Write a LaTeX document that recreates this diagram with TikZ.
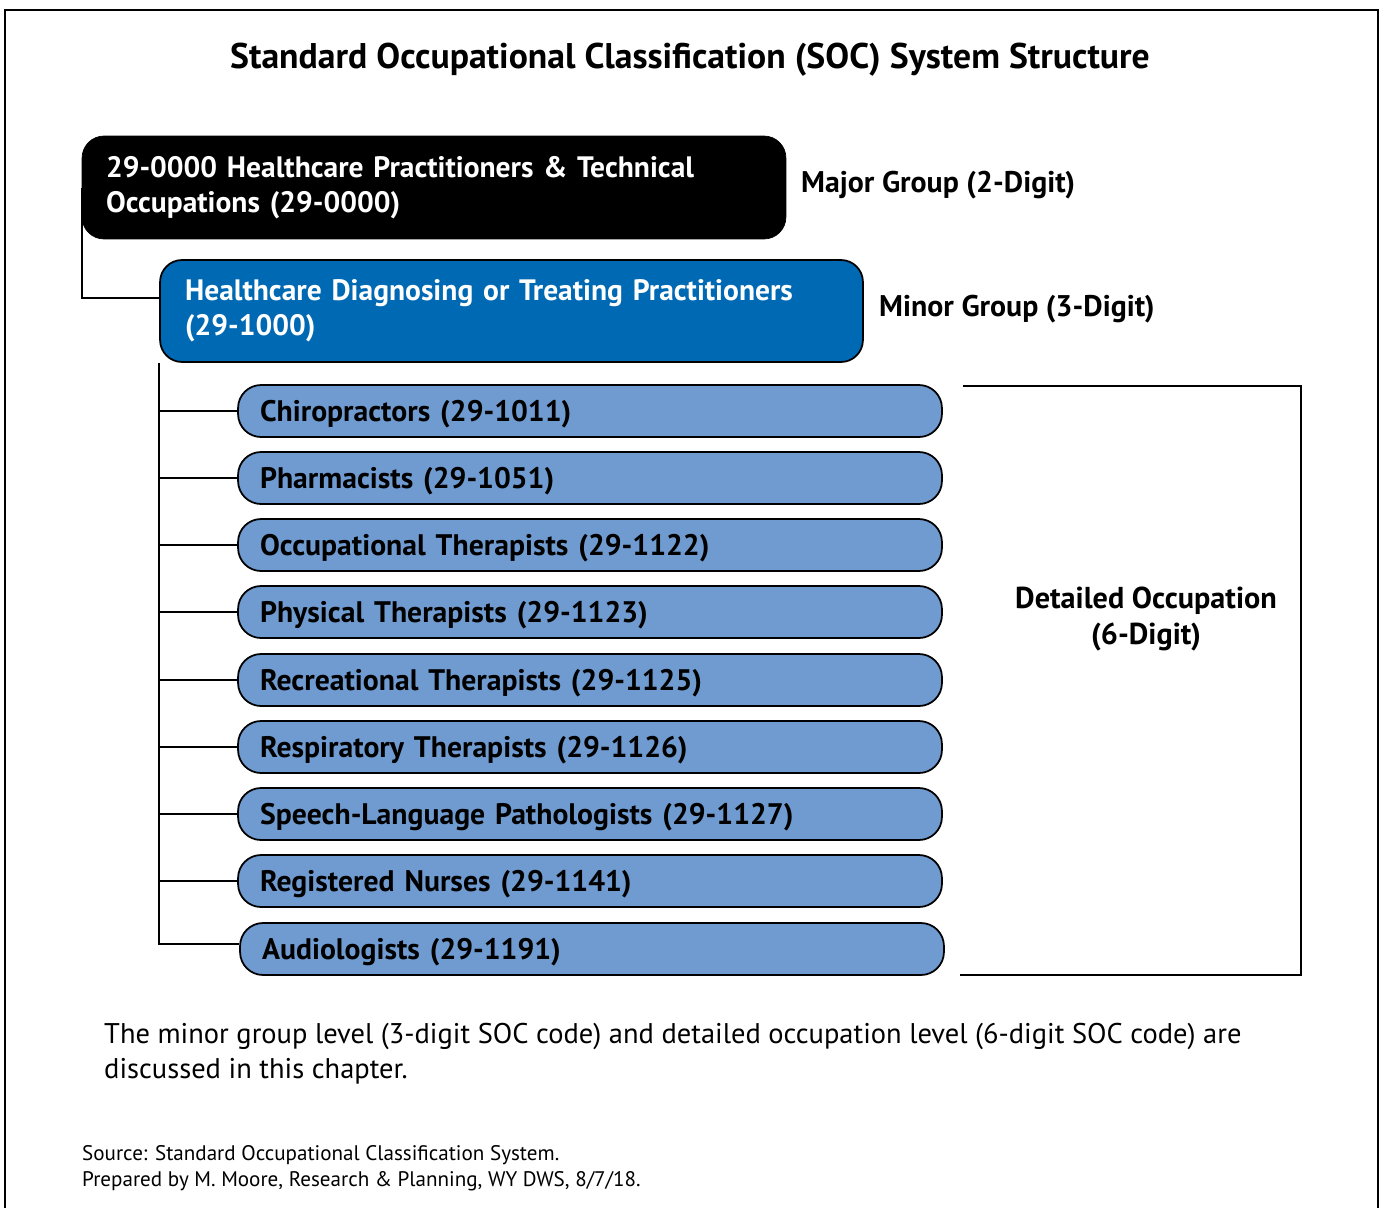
\documentclass[tikz,border=0pt]{standalone}
\usepackage{fontspec}
\setmainfont{PT Sans}
\definecolor{socblue}{HTML}{0069B4}
\definecolor{detailblue}{HTML}{6F9BD1}
\tikzset{
  conn/.style={line width=1.2pt, black},
  major/.style={draw=black, fill=black, text=white, rounded corners=0.44cm,
    minimum width=14.08cm, minimum height=2.06cm, inner xsep=0.48cm,
    text width=13.12cm, align=left, font=\bfseries\fontsize{16.8}{20}\selectfont},
  minor/.style={draw=black, line width=1pt, fill=socblue, text=white, rounded corners=0.44cm,
    minimum width=14.06cm, minimum height=2.04cm, inner xsep=0.5cm,
    text width=13.06cm, align=left, font=\bfseries\fontsize{16.8}{20}\selectfont},
  detail/.style={draw=black, line width=1pt, fill=detailblue, rounded corners=0.46cm,
    minimum width=14.08cm, minimum height=1.04cm, inner xsep=0.44cm, inner ysep=0pt,
    text height=0.52cm, text depth=0.12cm,
    text width=13.2cm, align=left, font=\bfseries\fontsize{16.9}{19}\selectfont},
  lbl/.style={anchor=west, font=\bfseries\fontsize{17}{20}\selectfont, align=left},
}
\begin{document}
\begin{tikzpicture}[x=0.02cm, y=-0.02cm]
  \useasboundingbox (0,0) rectangle (1385,1207);

  % Outer frame (open at the bottom)
  \draw[line width=1.6pt] (5,1215) -- (5,10) -- (1378,10) -- (1378,1215);

  % Title
  \node[font=\bfseries\fontsize{20.3}{24}\selectfont] (title) at (690,60)
    {Standard Occupational Classification (SOC) System Structure};

  % Major and minor group
  \node[major] (majorgrp) at (434,187.5)
    {29-0000 Healthcare Practitioners \& Technical\\Occupations (29-0000)};
  \node[minor] (minorgrp) at (511.5,311)
    {Healthcare Diagnosing or Treating Practitioners\\(29-1000)};
  \node[lbl] (majorlbl) at (795,185) {Major Group (2-Digit)};
  \node[lbl] (minorlbl) at (873,309) {Minor Group (3-Digit)};

  % Detailed occupations
  \node[detail] (d1) at (590,411) {Chiropractors (29-1011)};
  \node[detail] (d2) at (590,478) {Pharmacists (29-1051)};
  \node[detail] (d3) at (590,545) {Occupational Therapists (29-1122)};
  \node[detail] (d4) at (590,612) {Physical Therapists (29-1123)};
  \node[detail] (d5) at (590,680) {Recreational Therapists (29-1125)};
  \node[detail] (d6) at (590,747) {Respiratory Therapists (29-1126)};
  \node[detail] (d7) at (590,814) {Speech-Language Pathologists (29-1127)};
  \node[detail] (d8) at (590,881) {Registered Nurses (29-1141)};
  \node[detail] (d9) at (592,949) {Audiologists (29-1191)};

  % Tree connectors
  \draw[conn] (majorgrp.west) |- ([yshift=0.26cm]minorgrp.west);
  \draw[conn] (minorgrp.south west) |- ([yshift=0.1cm]d9.west);
  \draw[conn] (minorgrp.west |- d1.west) -- (d1.west);
  \draw[conn] (minorgrp.west |- d2.west) -- (d2.west);
  \draw[conn] (minorgrp.west |- d3.west) -- (d3.west);
  \draw[conn] (minorgrp.west |- d4.west) -- (d4.west);
  \draw[conn] (minorgrp.west |- d5.west) -- (d5.west);
  \draw[conn] (minorgrp.west |- d6.west) -- (d6.west);
  \draw[conn] (minorgrp.west |- d7.west) -- (d7.west);
  \draw[conn] (minorgrp.west |- d8.west) -- (d8.west);

  % Bracket for the detailed level
  \coordinate (brtop) at (963,386);
  \coordinate (brcorner) at (1301,975);
  \coordinate (brbot) at (960,975);
  \draw[conn] (brtop) -| (brcorner) -- (brbot);
  \node[font=\bfseries\fontsize{17.2}{20.5}\selectfont, align=center] (detaillbl) at (1146,619)
    {Detailed Occupation\\(6-Digit)};

  % Notes
  \node[anchor=west, align=left, font=\fontsize{16.2}{20}\selectfont] (note) at (98,1054)
    {The minor group level (3-digit SOC code) and detailed occupation level (6-digit SOC code) are\\discussed in this chapter.};
  \node[anchor=west, align=left, font=\fontsize{12}{14.8}\selectfont] (source) at (76,1168)
    {Source: Standard Occupational Classification System.\\Prepared by M. Moore, Research \& Planning, WY DWS, 8/7/18.};
\end{tikzpicture}
\end{document}
